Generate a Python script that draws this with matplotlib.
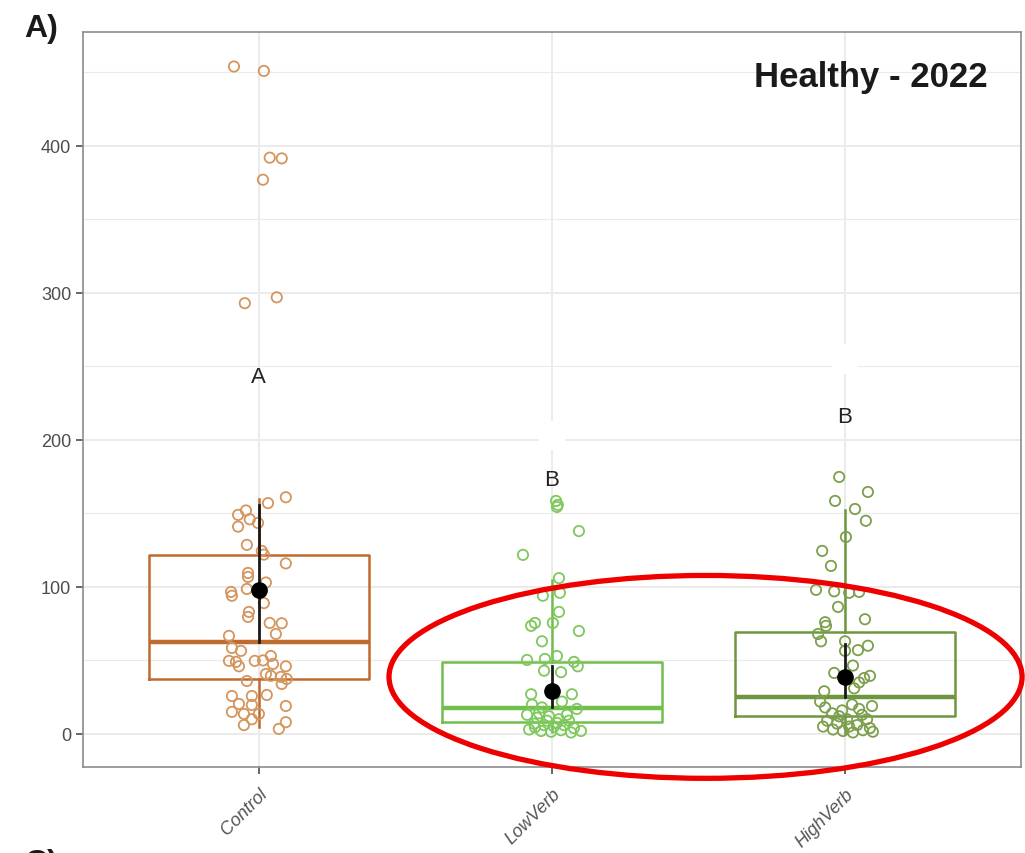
import matplotlib
matplotlib.use("Agg")
import matplotlib.pyplot as plt
from matplotlib.patches import Ellipse
import numpy as np

plt.rcParams['font.family'] = ['Liberation Sans', 'DejaVu Sans']

groups = ["Control", "LowVerb", "HighVerb"]
box_color = ["#bf6a2e", "#72bf4e", "#6e963f"]
pt_color = ["#d4955e", "#7fc85e", "#7c9f4c"]

# box stats (whisker low, Q1, median, Q3, whisker high)
whislo = [4.5, 1.0, 0.5]
q1 = [37.4, 8.0, 12.0]
med = [62.6, 17.7, 25.0]
q3 = [121.8, 49.0, 69.0]
whishi = [160.0, 105.0, 152.0]

# mean and interval (black)
means = [98.0, 29.0, 39.0]
ci_low = [62.6, 18.0, 25.0]
ci_high = [156.0, 46.0, 61.0]

letters = ["A", "B", "B"]
letter_y = [243, 173, 216]
blank_y = [None, 203, 255]   # white label patches

# jittered points: value and horizontal offset
control_y = [454, 451, 392, 391.5, 377, 293, 297,
             161, 157, 152, 149, 146, 143.5, 141, 128.6, 124.5, 122, 116, 109.5, 106.8, 103,
             98.6, 96.6, 94, 89, 83, 79.6, 75.5, 75.3, 68, 66.7, 58.5, 56.5, 49.7, 49, 46,
             49.7, 50, 53, 47.6, 46, 40.8, 39.5, 38.8, 37.4, 34, 36, 25.8, 20.4, 25.8, 26.5,
             19.7, 19, 15, 13.6, 13.6, 10, 6, 8, 3.4]
control_dx = [-0.085, 0.017, 0.037, 0.078, 0.014, -0.048, 0.061,
              0.092, 0.031, -0.044, -0.071, -0.031, -0.003, -0.071, -0.041, 0.010, 0.017, 0.092,
              -0.037, -0.037, 0.024, -0.041, -0.095, -0.092, 0.017, -0.034, -0.037, 0.037, 0.078,
              0.058, -0.102, -0.092, -0.061, -0.102, -0.078, -0.068, -0.014, 0.014, 0.041, 0.048,
              0.092, 0.024, 0.041, 0.075, 0.095, 0.078, -0.041, -0.092, -0.068, -0.024, 0.027,
              -0.024, 0.092, -0.092, -0.051, 0.0, -0.024, -0.051, 0.092, 0.068]

low_y = [158.5, 155.8, 154.4, 138, 121.8, 106, 94, 96, 83, 73.5, 75.5, 75.5, 70, 63,
         50.3, 51, 53, 49, 46, 43, 42, 27, 27, 20, 18, 22, 17, 2,
         13, 11, 12, 10, 9, 7, 6, 5, 6, 4, 3, 2, 1.5, 2.5, 1, 9, 7.5, 14, 13, 4.5]
low_dx = [0.014, 0.020, 0.017, 0.092, -0.099, 0.024, -0.031, 0.027, 0.024, -0.071, -0.058,
          0.003, 0.092, -0.034, -0.085, -0.024, 0.017, 0.075, 0.088, -0.027, 0.031, -0.071,
          0.068, -0.068, -0.034, 0.034, 0.085, 0.099,
          -0.085, -0.051, -0.010, 0.024, 0.058, -0.061, -0.027, 0.007, 0.041, 0.075, -0.078,
          -0.037, -0.003, 0.031, 0.065, -0.017, 0.017, -0.044, 0.051, -0.058]

high_y = [174.8, 164.6, 158.5, 153, 145, 134, 124.5, 114.3, 98, 97, 96, 96.6, 86.4, 78,
          76, 73.5, 68, 63, 63, 56.5, 57, 60, 46.5, 41.5, 39.5, 38, 35, 31, 29,
          22, 18, 19, 14, 16, 20, 13, 10, 9, 7, 10, 6, 4, 3, 2, 1, 2.5, 12, 5, 17, 5, 1.5]
high_dx = [-0.020, 0.078, -0.034, 0.034, 0.071, 0.003, -0.078, -0.048, -0.099, -0.037, 0.014,
           0.048, -0.024, 0.068, -0.068, -0.065, -0.092, -0.082, 0.0, 0.0, 0.044, 0.078, 0.027,
           -0.037, 0.085, 0.065, 0.048, 0.031, -0.071,
           -0.085, -0.068, 0.092, -0.044, -0.010, 0.024, 0.058, 0.075, -0.061, -0.027, 0.007,
           0.041, 0.085, -0.041, -0.007, 0.027, 0.061, -0.020, 0.014, 0.048, -0.075, 0.095]

points_y = [control_y, low_y, high_y]
points_dx = [control_dx, low_dx, high_dx]

fig = plt.figure(figsize=(10.25, 8.54), dpi=100)
ax = fig.add_axes([0.081, 0.1007, 0.915, 0.8607])

pos = np.arange(1, 4)
ax.set_xlim(0.4, 3.6)
ax.set_ylim(-22.5, 477.5)

# grid
for v in range(0, 451, 50):
    ax.axhline(v, color="#ebebeb", lw=1.4 if v % 100 == 0 else 0.8, zorder=0)
for p in pos:
    ax.axvline(p, color="#ebebeb", lw=1.4, zorder=0)

for i in range(3):
    st = dict(whislo=whislo[i], q1=q1[i], med=med[i], q3=q3[i], whishi=whishi[i], fliers=[])
    ax.bxp([st], positions=[pos[i]], widths=0.75, showfliers=False, showcaps=False,
           boxprops=dict(color=box_color[i], lw=1.8),
           whiskerprops=dict(color=box_color[i], lw=1.8),
           medianprops=dict(color=box_color[i], lw=3.2),
           manage_ticks=False, zorder=2)
    xs = pos[i] + np.array(points_dx[i])
    ax.scatter(xs, points_y[i], s=55, facecolors="none", edgecolors=pt_color[i],
               linewidths=1.3, zorder=3)
    ax.plot([pos[i], pos[i]], [ci_low[i], ci_high[i]], color="#1a1a1a", lw=2, zorder=4)
    ax.plot(pos[i], means[i], "o", color="black", ms=11, zorder=5)
    if blank_y[i] is not None:
        ax.text(pos[i], blank_y[i], "   ", fontsize=18, ha="center", va="center",
                bbox=dict(fc="white", ec="none", pad=2), zorder=1)
    ax.text(pos[i], letter_y[i], letters[i], fontsize=16, color="#222222",
            ha="center", va="center", zorder=6)

ax.set_xticks(pos)
ax.set_xticklabels(groups, rotation=45, ha="right", rotation_mode="anchor",
                   fontstyle="italic", fontsize=13, color="#555555")
ax.set_yticks(range(0, 401, 100))
ax.tick_params(axis="y", labelsize=13, labelcolor="#4d4d4d", color="#4d4d4d", length=5, width=1.2)
ax.tick_params(axis="x", color="#4d4d4d", length=5, width=1.2, pad=8)
for s in ax.spines.values():
    s.set_color("#8c8c8c")
    s.set_linewidth(1.2)

ax.text(0.965, 0.94, "Healthy - 2022", transform=ax.transAxes, ha="right", va="center",
        fontsize=25, fontweight="bold", color="#1a1a1a")
fig.text(0.024, 0.966, "A)", fontsize=23, fontweight="bold", color="#1a1a1a", va="center")
fig.text(0.024, -0.012, "C)", fontsize=23, fontweight="bold", color="#1a1a1a", va="center")

ell = Ellipse((2.524, 38.8), 2.16, 138, fill=False, edgecolor="#ee0000", lw=3.8,
              clip_on=False, zorder=7)
ax.add_patch(ell)

fig.savefig("out.png", dpi=100)
